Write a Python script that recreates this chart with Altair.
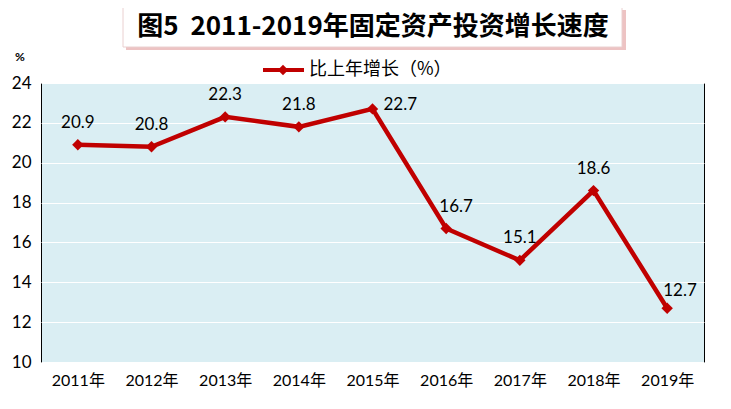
import altair as alt
import pandas as pd

years = ["2011年", "2012年", "2013年", "2014年", "2015年", "2016年", "2017年", "2018年", "2019年"]
values = [20.9, 20.8, 22.3, 21.8, 22.7, 16.7, 15.1, 18.6, 12.7]
y_ticks = [10, 12, 14, 16, 18, 20, 22, 24]
title_text = "图5\u00a0\u00a02011-2019年固定资产投资增长速度"
legend_text = "比上年增长（%）"
unit_text = "%"

RED = "#C00000"
FONT = "Lato, Noto Sans CJK SC, sans-serif"

df = pd.DataFrame({"year": years, "value": values})
df["label"] = [f"{v:.1f}" for v in values]

W, H = 663, 279

x = alt.X("year:N", sort=years, title=None,
          scale=alt.Scale(type="point", padding=0.5),
          axis=alt.Axis(labelAngle=0, labelFontSize=16, labelFont=FONT, labelColor="black",
                        labelPadding=10, ticks=False, domain=False, grid=False))
y = alt.Y("value:Q", title=None,
          scale=alt.Scale(domain=[10, 24], nice=False),
          axis=alt.Axis(values=y_ticks, labelFontSize=17, labelFont=FONT, labelColor="black",
                        labelPadding=10, ticks=False, domain=False, grid=True,
                        gridColor="white", gridWidth=1))

base = alt.Chart(df)

line = base.mark_line(color=RED, strokeWidth=4.5).encode(x=x, y=y)
pts = base.mark_point(shape="diamond", filled=True, color=RED, size=130, opacity=1).encode(x=x, y=y)


def labels(sel, **kw):
    style = dict(fontSize=17, font=FONT, color="black", baseline="middle")
    style.update(kw)
    return base.transform_filter(
        alt.FieldOneOfPredicate(field="year", oneOf=sel)
    ).mark_text(**style).encode(x=x, y=y, text="label:N")


lab_main = labels(["2011年", "2012年", "2013年", "2014年", "2017年", "2018年"], dy=-22)
lab_2015 = labels(["2015年"], dx=11, dy=-4, align="left")
lab_2016 = labels(["2016年"], dx=10, dy=-21)
lab_2019 = labels(["2019年"], dx=-4, dy=-17, align="left")

deco = alt.Chart(pd.DataFrame({"t": [title_text], "l": [legend_text], "u": [unit_text]}))

shadow = deco.mark_rect(fill="#e9b4b4", opacity=0.8).encode(
    x=alt.value(85), x2=alt.value(585), y=alt.value(-73), y2=alt.value(-33))
box = deco.mark_rect(fill="white", stroke="#ead0d0", strokeWidth=1).encode(
    x=alt.value(82), x2=alt.value(581), y=alt.value(-76), y2=alt.value(-36))
title = deco.mark_text(fontSize=26, fontWeight="bold", font="Noto Sans CJK SC",
                       color="black", baseline="middle", align="center").encode(
    x=alt.value(332), y=alt.value(-56), text="t:N")

leg_rule = deco.mark_rule(color=RED, strokeWidth=4).encode(
    x=alt.value(222), x2=alt.value(263), y=alt.value(-13))
leg_pt = deco.mark_point(shape="diamond", filled=True, color=RED, size=110, opacity=1).encode(
    x=alt.value(242), y=alt.value(-13))
leg_txt = deco.mark_text(fontSize=18, font="Noto Sans CJK SC", color="black",
                         align="left", baseline="middle").encode(
    x=alt.value(268), y=alt.value(-13), text="l:N")
unit = deco.mark_text(fontSize=12, fontWeight="bold", font=FONT, color="black",
                      align="center", baseline="middle").encode(
    x=alt.value(-21), y=alt.value(-26), text="u:N")

chart = alt.layer(
    line, pts, lab_main, lab_2015, lab_2016, lab_2019,
    shadow, box, title, leg_rule, leg_pt, leg_txt, unit
).properties(
    width=W, height=H,
    background="white",
    autosize=alt.AutoSizeParams(type="none"),
    padding={"left": 33, "top": 75, "right": 19, "bottom": 39},
).configure_view(
    fill="#DAEEF3", stroke="black", strokeWidth=1
)

chart.save("out.html", embed_options={"renderer": "svg", "actions": False})
